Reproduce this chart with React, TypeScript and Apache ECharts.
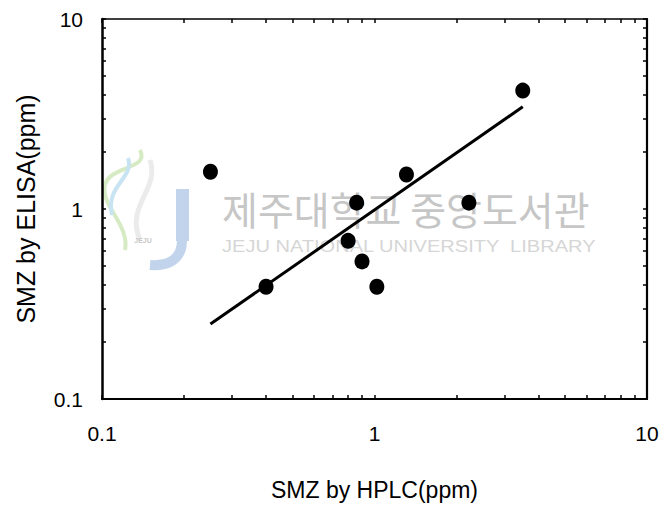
import React, { useEffect, useRef } from "react";
import * as echarts from "echarts";

const hplc = [0.25, 0.4, 0.8, 0.86, 0.9, 1.02, 1.31, 2.22, 3.5];
const elisa = [1.57, 0.39, 0.68, 1.08, 0.53, 0.39, 1.52, 1.08, 4.2];
const fitX = [0.25, 3.5];
const fitY = [0.248, 3.45];
const axisLabels = [0.1, 1, 10];
const tickValues = [0.1, 0.2, 0.3, 0.4, 0.5, 0.6, 0.7, 0.8, 0.9, 1, 2, 3, 4, 5, 6, 7, 8, 9, 10];

const FONT = "'Liberation Sans', Arial, sans-serif";

export default function App() {
  const ref = useRef<HTMLDivElement>(null);
  useEffect(() => {
    if (!ref.current) return;
    const chart = echarts.init(ref.current, null, { renderer: "svg" });
    const fmt = (v: number) => (v < 1 ? String(v) : String(Math.round(v)));
    const baseAxis = (show: boolean, lineW: number) => ({
      type: "log" as const,
      logBase: 10,
      min: 0.1,
      max: 10,
      axisLine: { show: true, lineStyle: { color: "#000", width: lineW } },
      axisTick: { show: true, inside: true, length: 4, customValues: tickValues, lineStyle: { color: "#000", width: 1.5 } },
      minorTick: { show: false },
      splitLine: { show: false },
      axisLabel: show
        ? { show: true, customValues: axisLabels, formatter: fmt, color: "#000", fontSize: 21, fontFamily: FONT }
        : { show: false },
    });
    const scatterData = hplc.map((x, i) => [x, elisa[i]]);
    const lineData = fitX.map((x, i) => [x, fitY[i]]);
    chart.setOption({
      animation: false,
      backgroundColor: "#fff",
      grid: { left: 102, right: 18, top: 19, bottom: 106, containLabel: false },
      xAxis: [
        {
          ...baseAxis(true, 2.2),
          position: "bottom",
          axisLabel: { show: true, customValues: axisLabels, formatter: fmt, color: "#000", fontSize: 21, fontFamily: FONT, margin: 24 },
          name: "SMZ by HPLC(ppm)",
          nameLocation: "middle",
          nameGap: 79,
          nameTextStyle: { color: "#000", fontSize: 23, fontFamily: FONT },
        },
        { ...baseAxis(false, 1.5), position: "top" },
      ],
      yAxis: [
        {
          ...baseAxis(true, 2.5),
          position: "left",
          axisLabel: { show: true, customValues: axisLabels, formatter: fmt, color: "#000", fontSize: 21, fontFamily: FONT, margin: 19 },
          name: "SMZ by ELISA(ppm)",
          nameLocation: "middle",
          nameGap: 64,
          nameTextStyle: { color: "#000", fontSize: 25, fontFamily: FONT },
        },
        { ...baseAxis(false, 2.2), position: "right" },
      ],
      graphic: [
        {
          type: "group",
          silent: true,
          z: -10,
          children: [
            { type: "bezierCurve", shape: { x1: 140, y1: 150, x2: 105, y2: 185, cpx1: 150, cpy1: 170, cpx2: 110, cpy2: 165 }, style: { stroke: "#d6ebc4", lineWidth: 4, fill: null } },
            { type: "bezierCurve", shape: { x1: 105, y1: 185, x2: 125, y2: 250, cpx1: 100, cpy1: 205, cpx2: 130, cpy2: 225 }, style: { stroke: "#d6ebc4", lineWidth: 4, fill: null } },
            { type: "bezierCurve", shape: { x1: 128, y1: 158, x2: 112, y2: 215, cpx1: 135, cpy1: 178, cpx2: 105, cpy2: 185 }, style: { stroke: "#c8e4f2", lineWidth: 4, fill: null } },
            { type: "bezierCurve", shape: { x1: 150, y1: 160, x2: 140, y2: 240, cpx1: 160, cpy1: 190, cpx2: 125, cpy2: 205 }, style: { stroke: "#ebebeb", lineWidth: 5, fill: null } },
            { type: "rect", shape: { x: 176, y: 189, width: 13, height: 52 }, style: { fill: "#c2d4ec" } },
            { type: "bezierCurve", shape: { x1: 182, y1: 240, x2: 150, y2: 265, cpx1: 182, cpy1: 262, cpx2: 165, cpy2: 266 }, style: { stroke: "#c2d4ec", lineWidth: 10, fill: null } },
            { type: "text", style: { x: 143, y: 240, text: "JEJU", fontSize: 7, fontWeight: "bold", fill: "#c8c8c8", align: "center", verticalAlign: "middle", fontFamily: FONT } },
            { type: "text", style: { x: 222, y: 208, text: "제주대학교 중앙도서관", fontSize: 39, fill: "#c6c6c6", verticalAlign: "middle", fontFamily: "'Noto Sans CJK KR', sans-serif" } },
            { type: "text", x: 222, y: 246, scaleX: 1.18, style: { x: 0, y: 0, text: "JEJU NATIONAL UNIVERSITY  LIBRARY", fontSize: 17, fill: "#d6d6d6", verticalAlign: "middle", fontFamily: FONT } },
          ],
        },
      ],
      series: [
        {
          type: "line",
          data: lineData,
          xAxisIndex: 0,
          yAxisIndex: 0,
          showSymbol: false,
          symbol: "none",
          lineStyle: { color: "#000", width: 3 },
          z: 3,
        },
        {
          type: "scatter",
          data: scatterData,
          xAxisIndex: 0,
          yAxisIndex: 0,
          symbol: "circle",
          symbolSize: [15, 16],
          itemStyle: { color: "#000", opacity: 1 },
          z: 4,
        },
      ],
    });
    return () => chart.dispose();
  }, []);
  return <div ref={ref} style={{ width: 665, height: 506, position: "absolute", left: 0, top: 0 }} />;
}
